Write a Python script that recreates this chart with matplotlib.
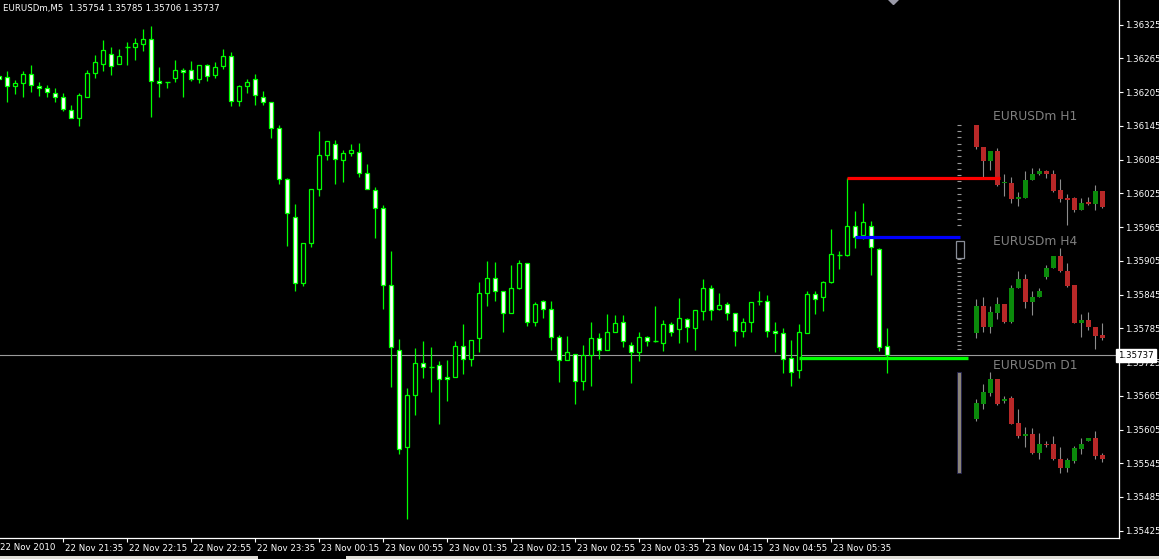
import numpy as np
import matplotlib.pyplot as plt
from matplotlib.transforms import ScaledTranslation

# EURUSDm M5 candles (open, high, low, close)
opens = [1.36233, 1.36232, 1.36216, 1.36221, 1.36238, 1.36216, 1.36212, 1.36203, 1.36196, 1.36173,
         1.36159, 1.36197, 1.36239, 1.36255, 1.36273, 1.36255, 1.36285, 1.36285, 1.36290, 1.36300,
         1.36225, 1.36223, 1.36230, 1.36244, 1.36244, 1.36228, 1.36253, 1.36235, 1.36251, 1.36269,
         1.36190, 1.36216, 1.36228, 1.36196, 1.36187, 1.36141, 1.36050, 1.35983, 1.35865, 1.35936,
         1.36032, 1.36093, 1.36113, 1.36084, 1.36097, 1.36098, 1.36061, 1.36031, 1.35999, 1.35862,
         1.35746, 1.35573, 1.35666, 1.35723, 1.35716, 1.35719, 1.35698, 1.35698, 1.35753, 1.35730,
         1.35767, 1.35847, 1.35874, 1.35851, 1.35813, 1.35857, 1.35902, 1.35797, 1.35833, 1.35819,
         1.35770, 1.35728, 1.35740, 1.35691, 1.35737, 1.35767, 1.35746, 1.35778, 1.35796, 1.35756,
         1.35742, 1.35769, 1.35762, 1.35758, 1.35792, 1.35783, 1.35801, 1.35785, 1.35815, 1.35856,
         1.35819, 1.35829, 1.35812, 1.35781, 1.35796, 1.35834, 1.35834, 1.35780, 1.35776, 1.35732,
         1.35710, 1.35776, 1.35846, 1.35840, 1.35867, 1.35916, 1.35915, 1.35967, 1.35951, 1.35967,
         1.35926, 1.35754]
highs = [1.36234, 1.36243, 1.36227, 1.36243, 1.36254, 1.36224, 1.36217, 1.36212, 1.36203, 1.36183,
         1.36203, 1.36245, 1.36272, 1.36297, 1.36286, 1.36281, 1.36295, 1.36301, 1.36318, 1.36322,
         1.36249, 1.36223, 1.36263, 1.36248, 1.36261, 1.36253, 1.36256, 1.36258, 1.36281, 1.36276,
         1.36218, 1.36228, 1.36238, 1.36208, 1.36187, 1.36147, 1.36053, 1.36006, 1.35936, 1.36033,
         1.36136, 1.36118, 1.36120, 1.36103, 1.36113, 1.36115, 1.36078, 1.36037, 1.36005, 1.35923,
         1.35766, 1.35679, 1.35750, 1.35762, 1.35752, 1.35727, 1.35729, 1.35762, 1.35793, 1.35764,
         1.35867, 1.35905, 1.35903, 1.35851, 1.35898, 1.35907, 1.35902, 1.35831, 1.35835, 1.35834,
         1.35773, 1.35771, 1.35740, 1.35755, 1.35796, 1.35777, 1.35811, 1.35809, 1.35809, 1.35760,
         1.35778, 1.35772, 1.35825, 1.35800, 1.35797, 1.35839, 1.35803, 1.35817, 1.35873, 1.35862,
         1.35847, 1.35832, 1.35812, 1.35803, 1.35832, 1.35851, 1.35844, 1.35796, 1.35785, 1.35764,
         1.35793, 1.35851, 1.35851, 1.35869, 1.35962, 1.35922, 1.36052, 1.35994, 1.36008, 1.35976,
         1.35928, 1.35785]
lows = [1.36228, 1.36187, 1.36201, 1.36197, 1.36206, 1.36199, 1.36197, 1.36187, 1.36172, 1.36159,
        1.36144, 1.36197, 1.36231, 1.36242, 1.36236, 1.36255, 1.36254, 1.36262, 1.36279, 1.36160,
        1.36196, 1.36213, 1.36224, 1.36197, 1.36225, 1.36222, 1.36225, 1.36230, 1.36246, 1.36180,
        1.36181, 1.36203, 1.36183, 1.36182, 1.36123, 1.36041, 1.35932, 1.35852, 1.35861, 1.35929,
        1.36021, 1.36085, 1.36041, 1.36046, 1.36092, 1.36055, 1.36033, 1.35946, 1.35820, 1.35681,
        1.35562, 1.35445, 1.35631, 1.35697, 1.35672, 1.35615, 1.35656, 1.35698, 1.35704, 1.35718,
        1.35743, 1.35824, 1.35834, 1.35779, 1.35813, 1.35855, 1.35789, 1.35789, 1.35804, 1.35747,
        1.35690, 1.35728, 1.35651, 1.35676, 1.35683, 1.35731, 1.35746, 1.35778, 1.35752, 1.35688,
        1.35727, 1.35754, 1.35761, 1.35745, 1.35772, 1.35758, 1.35761, 1.35747, 1.35799, 1.35800,
        1.35817, 1.35800, 1.35754, 1.35770, 1.35779, 1.35827, 1.35770, 1.35743, 1.35706, 1.35683,
        1.35697, 1.35776, 1.35811, 1.35816, 1.35865, 1.35891, 1.35913, 1.35927, 1.35943, 1.35880,
        1.35745, 1.35706]
closes = [1.36229, 1.36216, 1.36221, 1.36238, 1.36218, 1.36212, 1.36205, 1.36196, 1.36175, 1.36159,
          1.36200, 1.36240, 1.36259, 1.36280, 1.36251, 1.36269, 1.36285, 1.36293, 1.36300, 1.36225,
          1.36222, 1.36223, 1.36244, 1.36241, 1.36228, 1.36253, 1.36233, 1.36250, 1.36269, 1.36189,
          1.36216, 1.36224, 1.36200, 1.36187, 1.36141, 1.36050, 1.35990, 1.35865, 1.35936, 1.36033,
          1.36093, 1.36118, 1.36086, 1.36097, 1.36102, 1.36061, 1.36033, 1.35999, 1.35862, 1.35751,
          1.35571, 1.35666, 1.35723, 1.35717, 1.35716, 1.35694, 1.35694, 1.35753, 1.35730, 1.35764,
          1.35847, 1.35874, 1.35851, 1.35813, 1.35856, 1.35902, 1.35797, 1.35829, 1.35819, 1.35770,
          1.35728, 1.35742, 1.35691, 1.35737, 1.35767, 1.35746, 1.35778, 1.35794, 1.35762, 1.35742,
          1.35769, 1.35762, 1.35762, 1.35792, 1.35778, 1.35803, 1.35787, 1.35817, 1.35856, 1.35817,
          1.35826, 1.35812, 1.35781, 1.35796, 1.35831, 1.35834, 1.35781, 1.35776, 1.35730, 1.35707,
          1.35778, 1.35846, 1.35838, 1.35867, 1.35917, 1.35916, 1.35967, 1.35947, 1.35974, 1.35929,
          1.35751, 1.35737]

time_labels = ["22 Nov 21:35", "22 Nov 22:15", "22 Nov 22:55", "22 Nov 23:35", "23 Nov 00:15",
               "23 Nov 00:55", "23 Nov 01:35", "23 Nov 02:15", "23 Nov 02:55", "23 Nov 03:35",
               "23 Nov 04:15", "23 Nov 04:55", "23 Nov 05:35"]
first_label = "22 Nov 2010"

# higher timeframe mini charts drawn by the indicator
h1_o = [1.36147, 1.36107, 1.36082, 1.36101, 1.36043, 1.36044, 1.36015, 1.36017, 1.36048, 1.36059,
        1.36064, 1.36060, 1.36031, 1.36017, 1.36016, 1.35996, 1.36009, 1.36007, 1.36030]
h1_h = [1.36147, 1.36107, 1.36101, 1.36105, 1.36060, 1.36055, 1.36028, 1.36065, 1.36070, 1.36070,
        1.36067, 1.36067, 1.36051, 1.36024, 1.36019, 1.36016, 1.36019, 1.36040, 1.36030]
h1_l = [1.36104, 1.36050, 1.36066, 1.36038, 1.36021, 1.36008, 1.36003, 1.36017, 1.36048, 1.36058,
        1.36052, 1.36027, 1.36009, 1.35968, 1.35992, 1.35996, 1.36005, 1.35995, 1.35999]
h1_c = [1.36107, 1.36082, 1.36101, 1.36040, 1.36044, 1.36015, 1.36018, 1.36049, 1.36060, 1.36064,
        1.36059, 1.36030, 1.36015, 1.36014, 1.35996, 1.36008, 1.36007, 1.36030, 1.36000]

h4_o = [1.35777, 1.35825, 1.35788, 1.35813, 1.35829, 1.35797, 1.35856, 1.35873, 1.35832, 1.35840,
        1.35877, 1.35892, 1.35913, 1.35887, 1.35862, 1.35795, 1.35800, 1.35787, 1.35773]
h4_h = [1.35837, 1.35840, 1.35824, 1.35840, 1.35829, 1.35862, 1.35887, 1.35881, 1.35851, 1.35856,
        1.35897, 1.35913, 1.35928, 1.35902, 1.35862, 1.35810, 1.35814, 1.35787, 1.35794]
h4_l = [1.35768, 1.35779, 1.35776, 1.35802, 1.35794, 1.35794, 1.35856, 1.35822, 1.35809, 1.35840,
        1.35872, 1.35892, 1.35885, 1.35859, 1.35794, 1.35770, 1.35782, 1.35748, 1.35765]
h4_c = [1.35825, 1.35788, 1.35814, 1.35829, 1.35797, 1.35857, 1.35873, 1.35832, 1.35841, 1.35851,
        1.35892, 1.35913, 1.35887, 1.35861, 1.35795, 1.35800, 1.35787, 1.35772, 1.35768]

d1_o = [1.35624, 1.35651, 1.35670, 1.35695, 1.35656, 1.35661, 1.35617, 1.35594, 1.35597, 1.35564,
        1.35579, 1.35579, 1.35553, 1.35537, 1.35549, 1.35570, 1.35584, 1.35590, 1.35559]
d1_h = [1.35659, 1.35686, 1.35707, 1.35695, 1.35665, 1.35665, 1.35641, 1.35609, 1.35608, 1.35599,
        1.35585, 1.35593, 1.35573, 1.35554, 1.35575, 1.35590, 1.35590, 1.35602, 1.35564]
d1_l = [1.35621, 1.35641, 1.35665, 1.35649, 1.35653, 1.35614, 1.35590, 1.35574, 1.35561, 1.35552,
        1.35574, 1.35551, 1.35527, 1.35529, 1.35546, 1.35561, 1.35584, 1.35553, 1.35548]
d1_c = [1.35652, 1.35672, 1.35695, 1.35650, 1.35660, 1.35615, 1.35594, 1.35597, 1.35563, 1.35579,
        1.35577, 1.35552, 1.35537, 1.35551, 1.35572, 1.35579, 1.35590, 1.35558, 1.35553]

bid = 1.35737
red_level = 1.36052
blue_level = 1.35947
green_level = 1.35733

W, H = 1159, 559
fig = plt.figure(figsize=(W / 100, H / 100), dpi=100, facecolor="black")
ax = fig.add_axes([0, 21 / H, 1118.5 / W, 1 - 21 / H], facecolor="black")

LIME = "#00ff00"
x = np.arange(len(opens))
o = np.array(opens); c = np.array(closes)

# bid line behind candles
ax.axhline(bid, color="#9a9a9a", lw=0.8, zorder=1)

ax.vlines(x, lows, highs, color=LIME, lw=0.9, zorder=2)
body = o != c
fill = np.where(c > o, "black", "white")
ax.bar(x[body], np.abs(c - o)[body], bottom=np.minimum(o, c)[body], width=0.5,
       color=fill[body], edgecolor=LIME, linewidth=0.9, zorder=3)
ax.hlines(o[~body], x[~body] - 0.3, x[~body] + 0.3, color=LIME, lw=1.0, zorder=3)

# indicator levels
ax.hlines(red_level, 106, 125.1, color="#ff0000", lw=2.3, zorder=4)
ax.hlines(blue_level, 107, 120.1, color="#0000ff", lw=2.3, zorder=4)
ax.hlines(green_level, 100, 121.1, color="#00ff00", lw=2.4, zorder=4)

# mini charts
mx0, mstep = 122.12, 0.875
def mini(op, hi, lo, cl):
    op = np.array(op); cl = np.array(cl)
    xs = mx0 + mstep * np.arange(len(op))
    ax.vlines(xs, lo, hi, color="#8c8c8c", lw=0.8, zorder=2)
    col = np.where(cl >= op, "#0b8a0b", "#b82828")
    ax.bar(xs, np.maximum(np.abs(cl - op), 0.000015), bottom=np.minimum(op, cl), width=0.68,
           color=col, linewidth=0, zorder=3)

mini(h1_o, h1_h, h1_l, h1_c)
mini(h4_o, h4_h, h4_l, h4_c)
mini(d1_o, d1_h, d1_l, d1_c)

lab_x = 124.2
ax.text(lab_x, 1.36161, "EURUSDm H1", color="#808080", fontsize=8.8, va="center", ha="left")
ax.text(lab_x, 1.35940, "EURUSDm H4", color="#808080", fontsize=8.8, va="center", ha="left")
ax.text(lab_x, 1.35718, "EURUSDm D1", color="#808080", fontsize=8.8, va="center", ha="left")

# range scales
sx = 119.95
for n, hi, lo in [(17, max(h1_h), min(h1_l)), (22, max(h4_h) - 0.0002, min(h4_l))]:
    lv = np.linspace(hi, lo, n)
    ax.hlines(lv, sx - 0.25, sx + 0.25, color="#9a9a9a", lw=0.8, zorder=2)
ax.add_patch(plt.Rectangle((119.6, 1.35910), 1.0, 0.00030, fill=False, ec="#8a8f99", lw=0.9))
ax.bar(sx, max(d1_h) - min(d1_l), bottom=min(d1_l), width=0.5, color="#8a8478",
       edgecolor="#202050", linewidth=0.6, zorder=3)

# chart shift marker
ax.plot([111.7], [1.36372], marker="D", ms=6, color="#9a9aa8", clip_on=True, zorder=5)

ax.set_xlim(0.084, 139.9)
ax.set_ylim(1.35412, 1.36369)

for s in ["top", "left"]:
    ax.spines[s].set_visible(False)
for s in ["right", "bottom"]:
    ax.spines[s].set_color("white")
    ax.spines[s].set_linewidth(0.9)

yt = [1.35425 + 0.0006 * k for k in range(16)]
ax.yaxis.tick_right()
ax.set_yticks(yt)
ax.set_yticklabels([f"{v:.5f}" for v in yt])
ax.tick_params(axis="y", colors="white", length=3, width=0.8, pad=2, labelsize=6.2)

xt = [8 * (k + 1) for k in range(len(time_labels))]
ax.set_xticks(xt)
ax.set_xticklabels(time_labels)
ax.tick_params(axis="x", colors="white", length=3, width=0.8, pad=1.5, labelsize=6.2)
off = ScaledTranslation(2 / 100, 0, fig.dpi_scale_trans)
for lb in ax.get_xticklabels():
    lb.set_ha("left")
    lb.set_transform(lb.get_transform() + off)
fig.text(0, (21 - 9) / H, first_label, color="white", fontsize=6.2, ha="left", va="center")

# current price box on the scale
ax.text(1.0, bid, f"{bid:.5f}", transform=ax.get_yaxis_transform(), ha="left", va="center",
        fontsize=6.2, color="black", zorder=10, clip_on=False,
        bbox=dict(facecolor="white", edgecolor="white", boxstyle="square,pad=0.25"))

fig.text(3 / W, 1 - 9 / H, "EURUSDm,M5  1.35754 1.35785 1.35706 1.35737", color="white",
         fontsize=6.2, ha="left", va="center")

# window tab strip under the chart
fig.patches.append(plt.Rectangle((0, 0), 258 / W, 3 / H, transform=fig.transFigure,
                                 facecolor="#e0ded8", edgecolor="none"))
fig.patches.append(plt.Rectangle((346 / W, 0), 1 - 346 / W, 3 / H, transform=fig.transFigure,
                                 facecolor="#e0ded8", edgecolor="none"))

fig.savefig("out.png", dpi=100, facecolor="black")
